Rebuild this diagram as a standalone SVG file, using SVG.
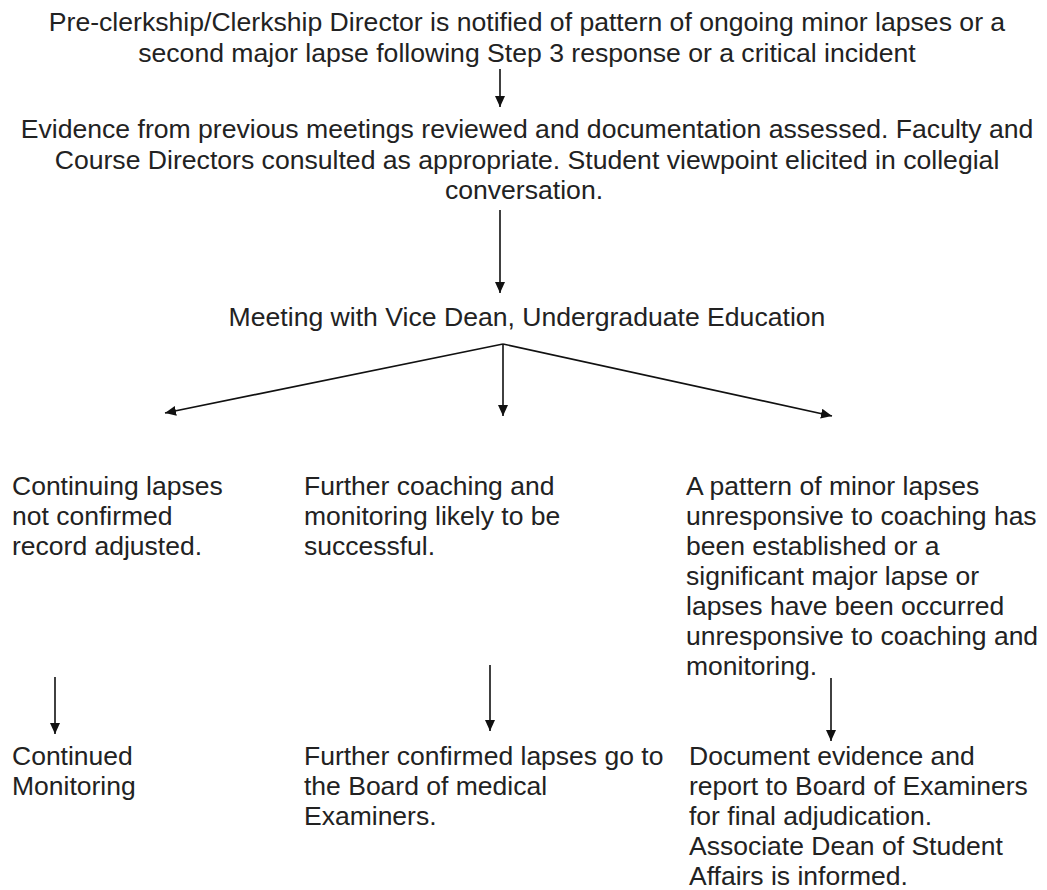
<svg xmlns="http://www.w3.org/2000/svg" width="1047" height="890" viewBox="0 0 1047 890">
<style>
.t{font-family:"Liberation Sans",Arial,sans-serif;fill:#222;}
.top{font-size:26.6px;text-anchor:middle;}
.col{font-size:26.5px;}
.c{stroke:#111;stroke-width:1.6;fill:none;marker-end:url(#ah);}
</style>
<defs>
<marker id="ah" markerUnits="userSpaceOnUse" markerWidth="12" markerHeight="12" refX="11" refY="5" orient="auto">
<path d="M0,0 L11,5 L0,10 Z" fill="#111"/>
</marker>
</defs>
<rect width="1047" height="890" fill="#fff"/>
<g id="connectors">
<line class="c" x1="500" y1="69" x2="500" y2="107"/>
<line class="c" x1="500" y1="210" x2="500" y2="293"/>
<line class="c" x1="503" y1="344" x2="165" y2="413"/>
<line class="c" x1="503" y1="344" x2="503" y2="416"/>
<line class="c" x1="503" y1="344" x2="832" y2="416"/>
<line class="c" x1="55" y1="677" x2="55" y2="734"/>
<line class="c" x1="490" y1="665" x2="490" y2="731"/>
<line class="c" x1="831" y1="678" x2="831" y2="741"/>
</g>
<g id="n-notify" class="t top">
<text x="527" y="31">Pre-clerkship/Clerkship Director is notified of pattern of ongoing minor lapses or a</text>
<text x="527" y="62">second major lapse following Step 3 response or a critical incident</text>
</g>
<g id="n-evidence" class="t top">
<text x="527" y="138">Evidence from previous meetings reviewed and documentation assessed. Faculty and</text>
<text x="527" y="169">Course Directors consulted as appropriate. Student viewpoint elicited in collegial</text>
<text x="524" y="199">conversation.</text>
</g>
<g id="n-meeting" class="t top">
<text x="527" y="326">Meeting with Vice Dean, Undergraduate Education</text>
</g>
<g id="n-notconfirmed" class="t col">
<text x="12" y="495">Continuing lapses</text>
<text x="12" y="525">not confirmed</text>
<text x="12" y="555">record adjusted.</text>
</g>
<g id="n-coaching" class="t col">
<text x="304" y="495">Further coaching and</text>
<text x="304" y="525">monitoring likely to be</text>
<text x="304" y="555">successful.</text>
</g>
<g id="n-pattern" class="t col">
<text x="686" y="495">A pattern of minor lapses</text>
<text x="686" y="525">unresponsive to coaching has</text>
<text x="686" y="555">been established or a</text>
<text x="686" y="585">significant major lapse or</text>
<text x="686" y="615">lapses have been occurred</text>
<text x="686" y="645">unresponsive to coaching and</text>
<text x="686" y="675">monitoring.</text>
</g>
<g id="n-continued" class="t col">
<text x="12" y="765">Continued</text>
<text x="12" y="795">Monitoring</text>
</g>
<g id="n-further" class="t col">
<text x="304" y="765">Further confirmed lapses go to</text>
<text x="304" y="795">the Board of medical</text>
<text x="304" y="825">Examiners.</text>
</g>
<g id="n-document" class="t col">
<text x="689" y="765">Document evidence and</text>
<text x="689" y="795">report to Board of Examiners</text>
<text x="689" y="825">for final adjudication.</text>
<text x="689" y="855">Associate Dean of Student</text>
<text x="689" y="885">Affairs is informed.</text>
</g>
</svg>
